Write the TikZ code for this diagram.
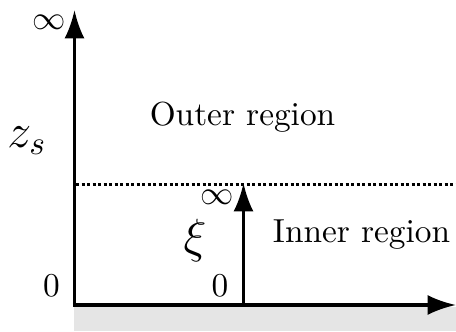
\documentclass[tikz,border=0pt]{standalone}
\usetikzlibrary{arrows.meta}
\begin{document}
\begin{tikzpicture}[x=0.3pt,y=-0.3pt,
  axis/.style={line width=1pt,-{Latex[length=8.5pt,width=6pt]}},
  lbl/.style={inner sep=0pt,font=\fontsize{10}{12}\selectfont},
  biglbl/.style={inner sep=0pt,font=\fontsize{14.4}{17}\selectfont},
  dotline/.style={line width=0.9pt,dash pattern=on 0.9pt off 0.75pt}]
\useasboundingbox (0,0) rectangle (456,331);
\fill[gray!20] (74,306.5) rectangle (456,331);
\coordinate (O) at (74.5,305);
\coordinate (Ytop) at (74.5,10);
\coordinate (Xend) at (456,305);
\coordinate (Ib) at (243.5,305);
\coordinate (It) at (243.5,183);
\coordinate (Dl) at (76,184);
\coordinate (Dr) at (456,184);
\draw[dotline] (Dl) -- (Dr);
\draw[axis] (O) -- (Ytop);
\draw[axis] ([xshift=-0.5pt]O) -- (Xend);
\draw[axis] (Ib) -- (It);
\node[lbl] (inftop) at (49,22) {$\infty$};
\node[biglbl] (zs) at (27,141) {$z_s$};
\node[lbl,anchor=base] (outer) at (242.5,125) {Outer region};
\node[lbl,anchor=base] (inner) at (361.5,242) {Inner region};
\node[biglbl] (xi) at (195,240) {$\xi$};
\node[lbl] (infin) at (217,197) {$\infty$};
\node[lbl] (z1) at (51.5,286) {$0$};
\node[lbl] (z2) at (220,286) {$0$};
\end{tikzpicture}
\end{document}
